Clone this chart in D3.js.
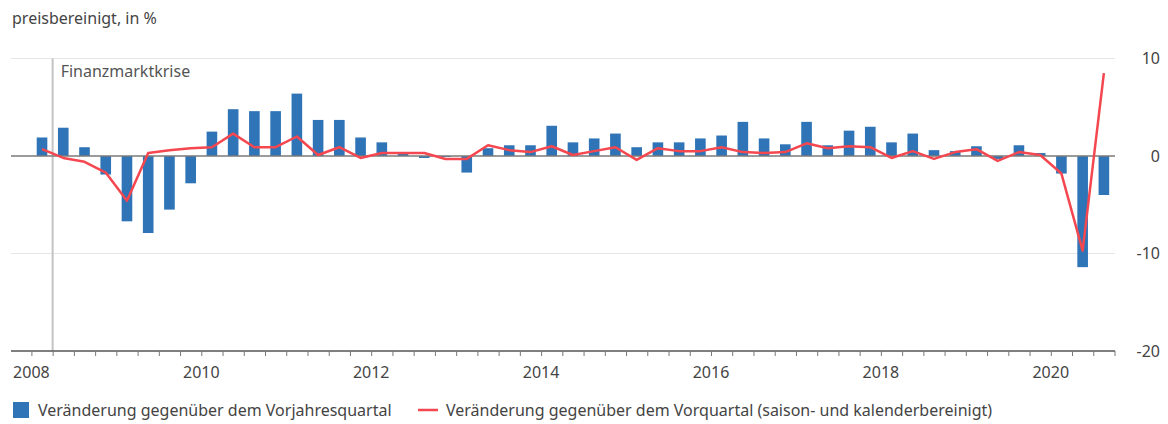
<!DOCTYPE html>
<html>
<head>
<meta charset="utf-8">
<script src="https://cdn.jsdelivr.net/npm/d3@7"></script>
<style>
  html, body { margin: 0; padding: 0; background: #ffffff; }
  svg { display: block; }
  text { font-family: "Noto Sans", "Open Sans", sans-serif; fill: #444; }
</style>
</head>
<body>
<svg id="chart" width="1168" height="424"></svg>
<script>
// Quarters 2008 Q1 .. 2020 Q3
const years = [2008, 2009, 2010, 2011, 2012, 2013, 2014, 2015, 2016, 2017, 2018, 2019, 2020];
const quarterNames = ["Q1", "Q2", "Q3", "Q4"];
const quarters = [];
years.forEach(y => quarterNames.forEach((q, k) => {
  if (!(y === 2020 && k === 3)) quarters.push({ year: y, q: k + 1, label: y + " " + q });
}));

// Veränderung gegenüber dem Vorjahresquartal (bars)
const yoyValues = [
  1.9, 2.9, 0.9, -1.9,
  -6.7, -7.9, -5.5, -2.8,
  2.5, 4.8, 4.6, 4.6,
  6.4, 3.7, 3.7, 1.9,
  1.4, 0.2, -0.2, -0.1,
  -1.7, 0.8, 1.1, 1.1,
  3.1, 1.4, 1.8, 2.3,
  0.9, 1.4, 1.4, 1.8,
  2.1, 3.5, 1.8, 1.2,
  3.5, 1.1, 2.6, 3.0,
  1.4, 2.3, 0.6, 0.5,
  1.0, -0.3, 1.1, 0.3,
  -1.8, -11.4, -4.0
];

// Veränderung gegenüber dem Vorquartal (saison- und kalenderbereinigt) (line)
const qoqValues = [
  0.7, -0.2, -0.6, -1.7,
  -4.6, 0.3, 0.6, 0.8,
  0.9, 2.3, 0.9, 0.9,
  2.0, 0.1, 0.9, -0.2,
  0.3, 0.3, 0.3, -0.3,
  -0.3, 1.1, 0.6, 0.4,
  1.0, 0.1, 0.5, 0.9,
  -0.4, 0.8, 0.5, 0.5,
  0.9, 0.4, 0.3, 0.4,
  1.3, 0.8, 1.0, 0.9,
  -0.2, 0.5, -0.3, 0.4,
  0.7, -0.5, 0.4, 0.1,
  -1.8, -9.7, 8.5
];

const yTicks = [10, 0, -10, -20];
const yearLabels = [2008, 2010, 2012, 2014, 2016, 2018, 2020];
const eventYear = 2008.25;
const eventLabel = "Finanzmarktkrise";
const unitLabel = "preisbereinigt, in %";
const seriesNames = ["Veränderung gegenüber dem Vorjahresquartal",
                     "Veränderung gegenüber dem Vorquartal (saison- und kalenderbereinigt)"];

const barColor = "#2e74b7";
const lineColor = "#f4474f";
const fs = "16px";

const svg = d3.select("#chart");
const plotLeft = 11, plotRight = 1115;

const x = d3.scaleLinear().domain([2008, 2020.75]).range([31.4, 1114.5]);
const y = d3.scaleLinear().domain([-20, 10]).range([351, 58.5]);
const qPos = d => d.year + (d.q - 1) / 4 + 0.125;
const quarterWidth = x(2008.25) - x(2008);
const barW = quarterWidth * 0.5;

// title
svg.append("text").attr("x", 12).attr("y", 24)
  .style("font-size", fs).text(unitLabel);

// gridlines
svg.append("g").selectAll("line").data(yTicks.filter(t => t !== 0 && t !== -20)).join("line")
  .attr("x1", plotLeft).attr("x2", plotRight)
  .attr("y1", d => y(d)).attr("y2", d => y(d))
  .attr("stroke", "#e6e6e6").attr("stroke-width", 1);

// y labels on right
svg.append("g").selectAll("text").data(yTicks).join("text")
  .attr("x", 1160).attr("y", d => y(d)).attr("dy", "0.35em")
  .attr("text-anchor", "end").style("font-size", fs).text(d => d);

// event line
svg.append("line")
  .attr("x1", x(eventYear)).attr("x2", x(eventYear))
  .attr("y1", y(10)).attr("y2", y(-20))
  .attr("stroke", "#c4c4c4").attr("stroke-width", 2);
svg.append("text").attr("x", x(eventYear) + 8).attr("y", 77)
  .style("font-size", fs).style("fill", "#555").text(eventLabel);

// bars
svg.append("g").selectAll("rect").data(quarters).join("rect")
  .attr("x", d => x(qPos(d)) - barW / 2)
  .attr("width", barW)
  .attr("y", (d, i) => y(Math.max(0, yoyValues[i])))
  .attr("height", (d, i) => Math.abs(y(yoyValues[i]) - y(0)))
  .attr("fill", barColor);

// zero line
svg.append("line")
  .attr("x1", plotLeft).attr("x2", plotRight)
  .attr("y1", y(0)).attr("y2", y(0))
  .attr("stroke", "#7a7a7a").attr("stroke-width", 1.5);

// line
const line = d3.line().x((d, i) => x(qPos(d))).y((d, i) => y(qoqValues[i]));
svg.append("path").datum(quarters).attr("d", line)
  .attr("fill", "none").attr("stroke", lineColor).attr("stroke-width", 2.5)
  .attr("stroke-linejoin", "round");

// x axis
const tickVals = d3.range(0, 52).map(k => 2008 + k / 4);
const xAxis = d3.axisBottom(x).tickValues(tickVals).tickSize(5).tickFormat("");
const gx = svg.append("g").attr("transform", `translate(0,${y(-20)})`).call(xAxis);
gx.select(".domain").attr("d", `M${plotLeft},0H${plotRight}`).attr("stroke", "#555").attr("stroke-width", 1.5);
gx.selectAll(".tick line").attr("stroke", "#777");
svg.append("g").selectAll("text").data(yearLabels).join("text")
  .attr("x", d => x(d)).attr("y", 378)
  .attr("text-anchor", "middle").style("font-size", fs).text(d => d);

// legend
const lg = svg.append("g");
lg.append("rect").attr("x", 13).attr("y", 402).attr("width", 16).attr("height", 16).attr("fill", barColor);
lg.append("text").attr("x", 38).attr("y", 416).style("font-size", fs).text(seriesNames[0]);
lg.append("line").attr("x1", 418).attr("x2", 438).attr("y1", 410).attr("y2", 410)
  .attr("stroke", lineColor).attr("stroke-width", 2.5);
lg.append("text").attr("x", 446).attr("y", 416).style("font-size", fs).text(seriesNames[1]);
</script>
</body>
</html>
